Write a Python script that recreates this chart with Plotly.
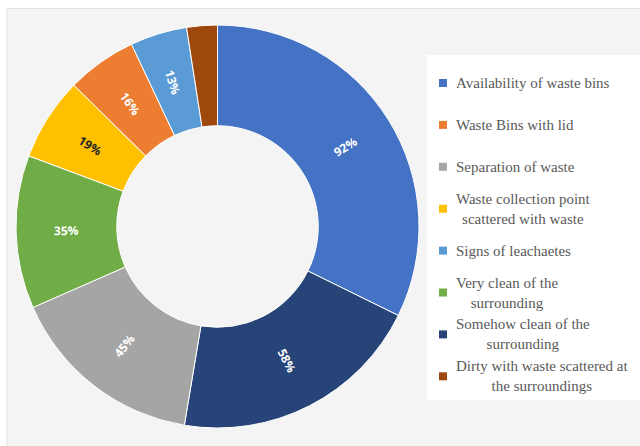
import numpy as np
import plotly.graph_objects as go

# ---- data (slice order as drawn, clockwise from 12 o'clock) ----
slice_labels = [
    "Availability of waste bins",
    "Somehow clean of the surrounding",
    "Separation of waste",
    "Very clean of the surrounding",
    "Waste collection point scattered with waste",
    "Waste Bins with lid",
    "Signs of leachaetes",
    "Dirty with waste scattered at the surroundings",
]
slice_values = [92, 58, 45, 35, 19, 16, 13, 7]
slice_text = ["92%", "58%", "45%", "35%", "19%", "16%", "13%", ""]
slice_colors = ["#4472C4", "#264478", "#A5A5A5", "#70AD47",
                "#FFC000", "#ED7D31", "#5B9BD5", "#9E480E"]
text_colors = ["white", "white", "white", "white", "#262626", "white", "white", "white"]

# ---- legend order (as shown in the reference) ----
legend_labels = [
    "Availability of waste bins",
    "Waste Bins with lid",
    "Separation of waste",
    "Waste collection point<br>scattered with waste",
    "Signs of leachaetes",
    "Very clean of the<br>surrounding",
    "Somehow clean of the<br>surrounding",
    "Dirty with waste scattered at<br>the surroundings",
]
legend_colors = ["#4472C4", "#ED7D31", "#A5A5A5", "#FFC000",
                 "#5B9BD5", "#70AD47", "#264478", "#9E480E"]

W, H = 640, 446

def px(x):
    return x / W

def py(y):
    return 1 - y / H

fig = go.Figure()

cx, cy, r = 217.5, 226.5, 201.5
hole = 0.5
fig.add_trace(go.Pie(
    labels=slice_labels,
    values=slice_values,
    textinfo="none",
    marker=dict(colors=slice_colors, line=dict(color="white", width=1)),
    hole=hole,
    sort=False,
    direction="clockwise",
    rotation=0,
    showlegend=False,
    hoverinfo="label+value",
    domain=dict(x=[px(cx - r), px(cx + r)], y=[py(cy + r), py(cy - r)]),
))

shapes = [
    dict(type="rect", xref="paper", yref="paper",
         x0=px(7), x1=px(641), y0=py(447), y1=py(8.5),
         fillcolor="#f4f4f4", line=dict(color="#e2e2e2", width=1), layer="below"),
    dict(type="rect", xref="paper", yref="paper",
         x0=px(427), x1=px(641), y0=py(400), y1=py(55),
         fillcolor="white", line=dict(width=0), layer="below"),
]

annotations = []

# data labels at each slice's mid-angle, radially oriented (derived from the values)
vals = np.array(slice_values, dtype=float)
cum = np.cumsum(vals) - vals / 2
mid_deg = cum / vals.sum() * 360.0
r_lab = r * (1 + hole) / 2
for theta, txt, tc in zip(mid_deg, slice_text, text_colors):
    if not txt:
        continue
    t = np.radians(theta)
    x = cx + r_lab * np.sin(t)
    y = cy - r_lab * np.cos(t)
    ang = theta - 90
    while ang > 90:
        ang -= 180
    while ang <= -90:
        ang += 180
    annotations.append(dict(
        x=px(x), y=py(y), xref="paper", yref="paper", text="<b>%s</b>" % txt,
        showarrow=False, textangle=ang, xanchor="center", yanchor="middle",
        font=dict(family="Open Sans", size=12, color=tc),
    ))

for i, (lab, col) in enumerate(zip(legend_labels, legend_colors)):
    yc = 83 + i * 41.9
    shapes.append(dict(type="rect", xref="paper", yref="paper",
                       x0=px(439), x1=px(447), y0=py(yc + 4), y1=py(yc - 4),
                       fillcolor=col, line=dict(width=0)))
    annotations.append(dict(
        x=px(454), y=py(yc), xref="paper", yref="paper",
        text=lab, showarrow=False, xanchor="left", yanchor="middle",
        align="center",
        font=dict(family="Liberation Serif", size=15, color="#595959"),
    ))

fig.update_layout(
    width=W, height=H,
    margin=dict(l=0, r=0, t=0, b=0),
    paper_bgcolor="white",
    plot_bgcolor="white",
    shapes=shapes,
    annotations=annotations,
    showlegend=False,
)

fig.write_html("out.html")
